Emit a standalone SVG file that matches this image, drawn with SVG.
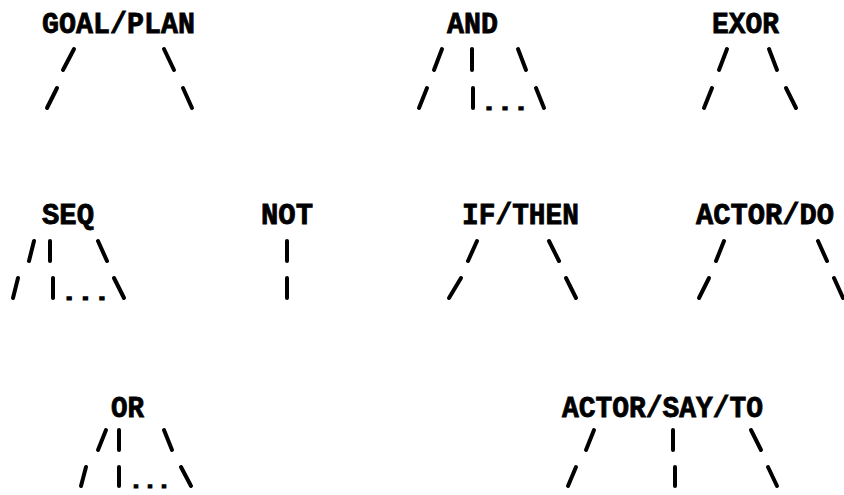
<svg xmlns="http://www.w3.org/2000/svg" width="844" height="495" viewBox="0 0 844 495">
<style>
.lbl{font-family:"Liberation Mono","DejaVu Sans Mono",monospace;font-weight:bold;font-size:29px;fill:#000;stroke:#000;stroke-width:0.8px}
.dots{font-family:"Liberation Mono","DejaVu Sans Mono",monospace;font-weight:bold;font-size:20px;fill:#000;stroke:#000;stroke-width:1.2px}
.c line{stroke:#000;stroke-width:4;stroke-linecap:round}
</style>
<rect width="844" height="495" fill="#fff"/>
<g id="node-goal-plan"><text class="lbl" x="42" y="33" textLength="153" lengthAdjust="spacingAndGlyphs">GOAL/PLAN</text></g>
<g id="node-and"><text class="lbl" x="447" y="33" textLength="51" lengthAdjust="spacingAndGlyphs">AND</text></g>
<g id="node-exor"><text class="lbl" x="712" y="33" textLength="67" lengthAdjust="spacingAndGlyphs">EXOR</text></g>
<g id="node-seq"><text class="lbl" x="42" y="224" textLength="52" lengthAdjust="spacingAndGlyphs">SEQ</text></g>
<g id="node-not"><text class="lbl" x="261" y="224" textLength="52" lengthAdjust="spacingAndGlyphs">NOT</text></g>
<g id="node-if-then"><text class="lbl" x="462" y="224" textLength="117" lengthAdjust="spacingAndGlyphs">IF/THEN</text></g>
<g id="node-actor-do"><text class="lbl" x="696" y="224" textLength="138" lengthAdjust="spacingAndGlyphs">ACTOR/DO</text></g>
<g id="node-or"><text class="lbl" x="111" y="417" textLength="33" lengthAdjust="spacingAndGlyphs">OR</text></g>
<g id="node-actor-say-to"><text class="lbl" x="562" y="417" textLength="201" lengthAdjust="spacingAndGlyphs">ACTOR/SAY/TO</text></g>
<g id="connectors" class="c">
<!-- GOAL/PLAN -->
<line x1="74" y1="49" x2="63" y2="70"/><line x1="164" y1="49" x2="174" y2="70"/>
<line x1="57" y1="88" x2="47" y2="108"/><line x1="183" y1="88" x2="192" y2="108"/>
<!-- AND -->
<line x1="442" y1="49" x2="434" y2="70"/><line x1="472" y1="49" x2="472" y2="70"/><line x1="518" y1="49" x2="526" y2="70"/>
<line x1="427" y1="88" x2="419" y2="108"/><line x1="473" y1="88" x2="473" y2="108"/><line x1="536" y1="88" x2="544" y2="108"/>
<text class="dots" x="481" y="110" textLength="48" lengthAdjust="spacingAndGlyphs">...</text>
<!-- EXOR -->
<line x1="727" y1="49" x2="719" y2="70"/><line x1="769" y1="49" x2="777" y2="70"/>
<line x1="712" y1="88" x2="704" y2="108"/><line x1="786" y1="88" x2="796" y2="108"/>
<!-- SEQ -->
<line x1="34" y1="241" x2="29" y2="261"/><line x1="50" y1="241" x2="50" y2="261"/><line x1="98" y1="241" x2="107" y2="261"/>
<line x1="18" y1="278" x2="13" y2="298"/><line x1="53" y1="278" x2="53" y2="298"/><line x1="114" y1="278" x2="124" y2="298"/>
<text class="dots" x="61" y="300" textLength="49" lengthAdjust="spacingAndGlyphs">...</text>
<!-- NOT -->
<line x1="287" y1="241" x2="287" y2="261"/><line x1="287" y1="278" x2="287" y2="298"/>
<!-- IF/THEN -->
<line x1="477" y1="241" x2="468" y2="261"/><line x1="549" y1="241" x2="559" y2="261"/>
<line x1="461" y1="278" x2="449" y2="298"/><line x1="566" y1="278" x2="576" y2="298"/>
<!-- ACTOR/DO -->
<line x1="724" y1="241" x2="716" y2="261"/><line x1="818" y1="241" x2="827" y2="261"/>
<line x1="709" y1="278" x2="699" y2="298"/><line x1="834" y1="278" x2="843" y2="298"/>
<!-- OR -->
<line x1="106" y1="430" x2="98" y2="450"/><line x1="119" y1="430" x2="119" y2="450"/><line x1="164" y1="430" x2="172" y2="450"/>
<line x1="86" y1="467" x2="81" y2="486"/><line x1="119" y1="467" x2="119" y2="486"/><line x1="181" y1="467" x2="191" y2="486"/>
<text class="dots" x="129" y="488" textLength="42" lengthAdjust="spacingAndGlyphs">...</text>
<!-- ACTOR/SAY/TO -->
<line x1="594" y1="430" x2="586" y2="450"/><line x1="673" y1="430" x2="673" y2="450"/><line x1="751" y1="430" x2="761" y2="450"/>
<line x1="576" y1="467" x2="568" y2="486"/><line x1="675" y1="467" x2="675" y2="486"/><line x1="768" y1="467" x2="777" y2="486"/>
</g>
</svg>
